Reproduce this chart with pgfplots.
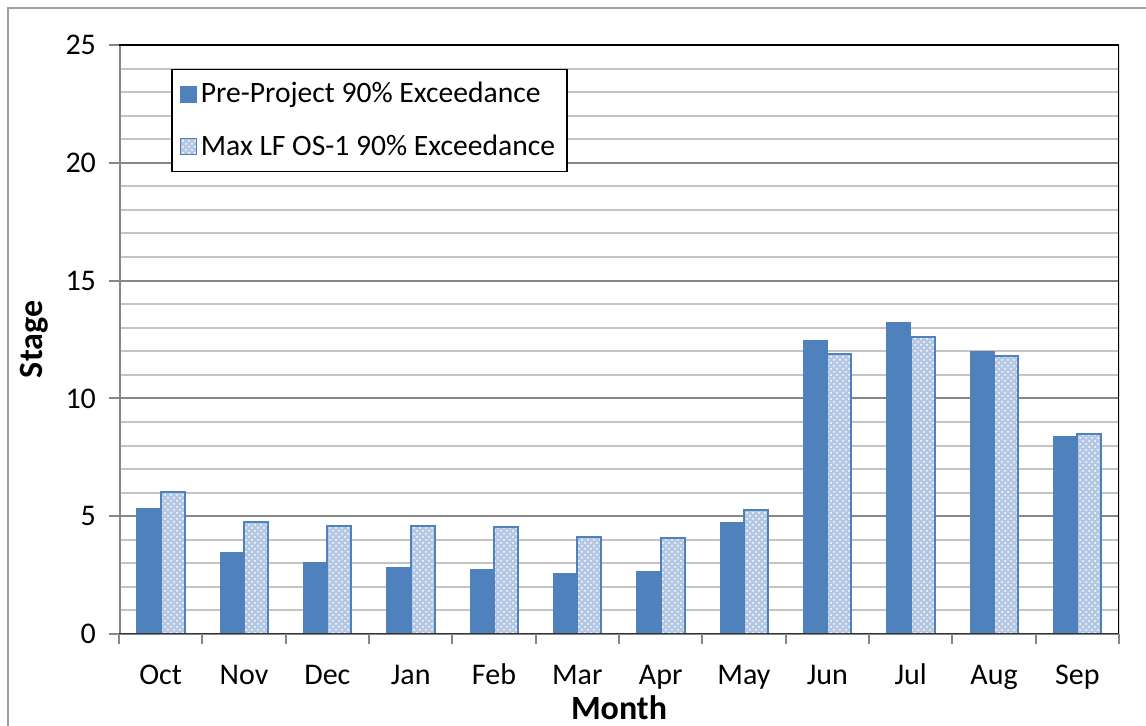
\documentclass[border=0pt]{standalone}
\usepackage{fontspec}
\setmainfont{Carlito}
\usepackage{pgfplots}
\pgfplotsset{compat=1.18}
\usetikzlibrary{patterns}
\definecolor{barblue}{HTML}{4F81BD}
\definecolor{lightbar}{HTML}{B4C8E4}
\definecolor{majgrid}{HTML}{868686}
\definecolor{mingrid}{HTML}{C4C4C4}
\definecolor{outerframe}{HTML}{A0A0A0}
\pgfplotsset{sqlegend/.style={legend image code/.code={\draw[##1, line width=0.5pt] (0pt,-4pt) rectangle (8pt,4pt);}}}
\begin{document}
\begin{tikzpicture}[x=0.5pt,y=0.5pt]
\useasboundingbox (0,0) rectangle (1146,726);
\fill[white] (0,0) rectangle (1146,726);
\draw[outerframe, line width=1pt] (8,-10) -- (8,718) -- (1160,718);
\begin{axis}[
  at={(59.5pt,46pt)}, anchor=south west,
  scale only axis, width=500pt, height=294.5pt,
  ybar=0pt, bar width=12pt,
  xmin=-0.5, xmax=11.5, ymin=0, ymax=25,
  xtick={-0.5,0.5,...,11.5},
  xticklabels={Oct,Nov,Dec,Jan,Feb,Mar,Apr,May,Jun,Jul,Aug,Sep},
  x tick label as interval,
  ytick={0,5,...,25}, minor ytick={1,...,24},
  ymajorgrids, yminorgrids,
  major grid style={majgrid, line width=1pt},
  minor grid style={mingrid, line width=1pt},
  tick align=outside, major tick length=5pt, minor tick length=0pt,
  tick style={majgrid, line width=1pt},
  tick pos=left,
  axis line style={draw=none},
  /pgf/number format/assume math mode=true,
  ticklabel style={font=\fontsize{15}{17}\selectfont},
  yticklabel style={xshift=-3pt},
  xticklabel style={yshift=-5.5pt, text height=11pt, text depth=3pt},
  xlabel={Month}, ylabel={Stage},
  label style={font=\bfseries\fontsize{17}{20}\selectfont},
  xlabel style={at={(rel axis cs:0.5,-0.1256)}, anchor=center},
  ylabel style={at={(rel axis cs:-0.085,0.5)}, anchor=center},
  legend style={at={(rel axis cs:0.052,0.960)}, anchor=north west,
    draw=black, line width=0.8pt, font=\fontsize{14.8}{17}\selectfont,
    row sep=10.5pt, inner xsep=4pt, inner ysep=4.5pt},
  legend cell align=left,
]
\addplot[fill=barblue, draw=barblue, line width=0.5pt, sqlegend]
  coordinates {(0,5.34) (1,3.48) (2,3.03) (3,2.84) (4,2.74) (5,2.58) (6,2.67) (7,4.73) (8,12.47) (9,13.23) (10,12.01) (11,8.39)};
\addlegendentry{Pre-Project 90\% Exceedance}
\addplot[fill=lightbar, draw=barblue, line width=1pt,
  postaction={pattern=crosshatch dots, pattern color=white}, sqlegend]
  coordinates {(0,6.01) (1,4.77) (2,4.57) (3,4.58) (4,4.54) (5,4.10) (6,4.07) (7,5.26) (8,11.87) (9,12.62) (10,11.81) (11,8.49)};
\addlegendentry{Max LF OS-1 90\% Exceedance}
\draw[majgrid, line width=1.5pt] (rel axis cs:0,0) -- (rel axis cs:0,1);
\draw[black, line width=1.5pt] (rel axis cs:0,1) -- (rel axis cs:1,1) -- (rel axis cs:1,0);
\draw[black!80, line width=1pt] (rel axis cs:0,0) -- (rel axis cs:1,0);
\end{axis}
\end{tikzpicture}
\end{document}
